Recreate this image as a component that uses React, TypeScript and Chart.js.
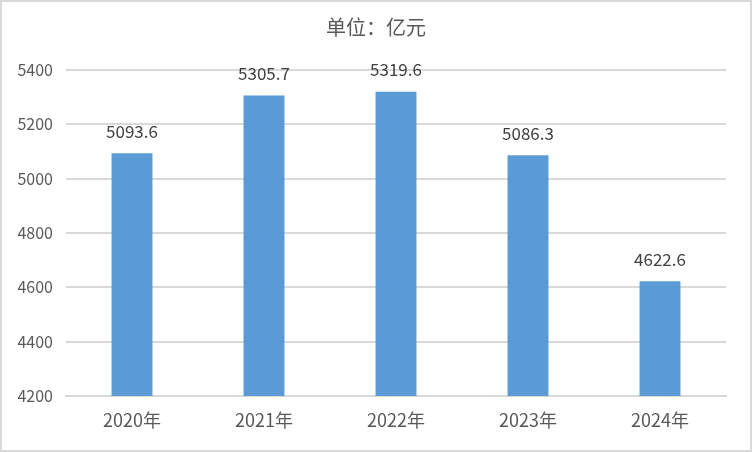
import React, { useEffect, useRef } from "react";
import { Chart, registerables } from "chart.js";

Chart.register(...registerables);

const categories = ["2020年", "2021年", "2022年", "2023年", "2024年"];
const values = [5093.6, 5305.7, 5319.6, 5086.3, 4622.6];
const yTicks = [4200, 4400, 4600, 4800, 5000, 5200, 5400];
const title = "单位：亿元";

const FONT = "'Noto Sans CJK SC', 'Noto Sans', sans-serif";

export default function App() {
  const ref = useRef<HTMLCanvasElement>(null);
  useEffect(() => {
    document.body.style.margin = "0";
    const canvas = ref.current!;
    const frame = {
      id: "frame",
      beforeDraw(chart: any) {
        const c = chart.ctx;
        c.save();
        c.fillStyle = "#ffffff";
        c.fillRect(0, 0, chart.width, chart.height);
        c.strokeStyle = "#d9d9d9";
        c.lineWidth = 2;
        c.strokeRect(1, 1, chart.width - 2, chart.height - 2);
        c.restore();
      },
      afterDraw(chart: any) {
        const c = chart.ctx;
        c.save();
        c.fillStyle = "#595959";
        c.font = `20px ${FONT}`;
        c.textAlign = "center";
        c.textBaseline = "middle";
        c.fillText(title, 376, 27);
        c.fillStyle = "#404040";
        c.font = `17px ${FONT}`;
        const meta = chart.getDatasetMeta(0);
        meta.data.forEach((bar: any, i: number) => {
          c.fillText(values[i].toFixed(1), bar.x, bar.y - 22);
        });
        c.restore();
      },
    };
    const chart = new Chart(canvas, {
      type: "bar",
      data: {
        labels: categories,
        datasets: [
          {
            data: values,
            backgroundColor: "#5b9bd5",
            categoryPercentage: 1,
            barPercentage: 0.31,
          },
        ],
      },
      options: {
        animation: false,
        responsive: false,
        devicePixelRatio: 1,
        layout: { padding: { top: 70, right: 26, left: 0, bottom: 0 } },
        plugins: { legend: { display: false }, tooltip: { enabled: false }, title: { display: false } },
        scales: {
          x: {
            grid: { display: false, drawTicks: false },
            border: { color: "#d9d9d9", width: 2 },
            ticks: { color: "#595959", font: { family: FONT, size: 18 }, padding: 13 },
            afterFit(scale: any) {
              scale.height = 452 - 396;
            },
          },
          y: {
            min: 4200,
            max: 5400,
            afterBuildTicks(scale: any) {
              scale.ticks = yTicks.map((v) => ({ value: v }));
            },
            grid: { color: "#d9d9d9", lineWidth: 2, drawTicks: false },
            border: { display: false },
            ticks: {
              color: "#595959",
              font: { family: FONT, size: 16 },
              padding: 13,
              callback: (v: any) => String(v),
            },
            afterFit(scale: any) {
              scale.width = 66;
            },
          },
        },
      },
      plugins: [frame],
    });
    return () => chart.destroy();
  }, []);
  return <canvas ref={ref} width={752} height={452} style={{ display: "block" }} />;
}
